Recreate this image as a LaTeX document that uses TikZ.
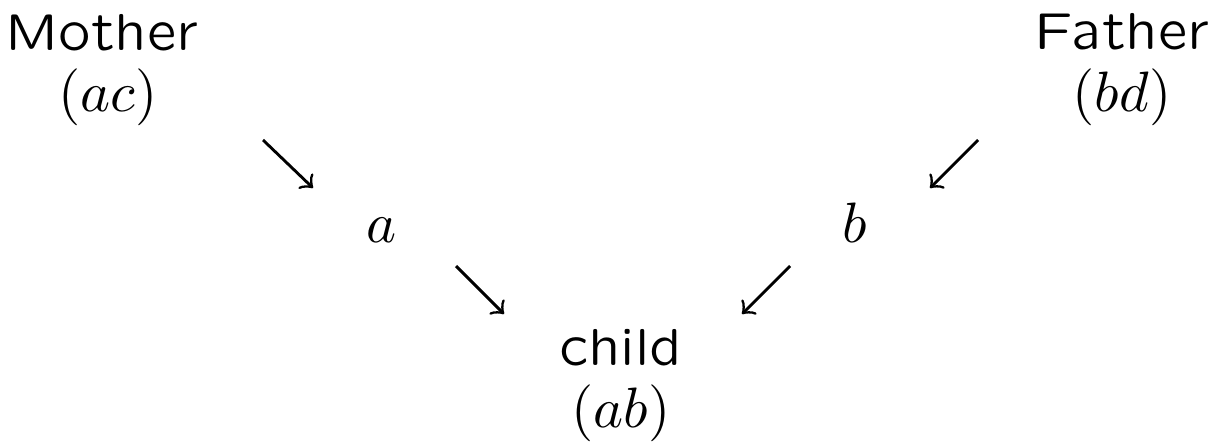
\documentclass[tikz,border=0pt]{standalone}
\font\qsans=cmssq8 at 10pt
\begin{document}
\begin{tikzpicture}[x=0.19231pt,y=-0.19231pt,
  lbl/.style={inner sep=0pt,anchor=base,font=\qsans},
  var/.style={inner sep=0pt,anchor=base,font=\fontsize{11}{13}\selectfont},
  arr/.style={->,>=to,line width=0.55pt}]
\useasboundingbox (0,0) rectangle (1217,441);
\node[lbl] (mother) at (102,50) {Mother};
\node[var] (motherg) at (108,111) {$(ac)$};
\node[lbl] (father) at (1122,49) {Father};
\node[var] (fatherg) at (1122,111) {$(bd)$};
\node[var] (a) at (382,242) {$a$};
\node[var] (b) at (855,242) {$b$};
\node[lbl] (child) at (621,365) {child};
\node[var] (childg) at (621,427) {$(ab)$};
\coordinate (m1) at (263,140); \coordinate (m2) at (313,188);
\coordinate (f1) at (978,140); \coordinate (f2) at (930,188);
\coordinate (a1) at (456,266); \coordinate (a2) at (504,314);
\coordinate (b1) at (790,266); \coordinate (b2) at (742,314);
\draw[arr] (m1) -- (m2);
\draw[arr] (f1) -- (f2);
\draw[arr] (a1) -- (a2);
\draw[arr] (b1) -- (b2);
\end{tikzpicture}
\end{document}
